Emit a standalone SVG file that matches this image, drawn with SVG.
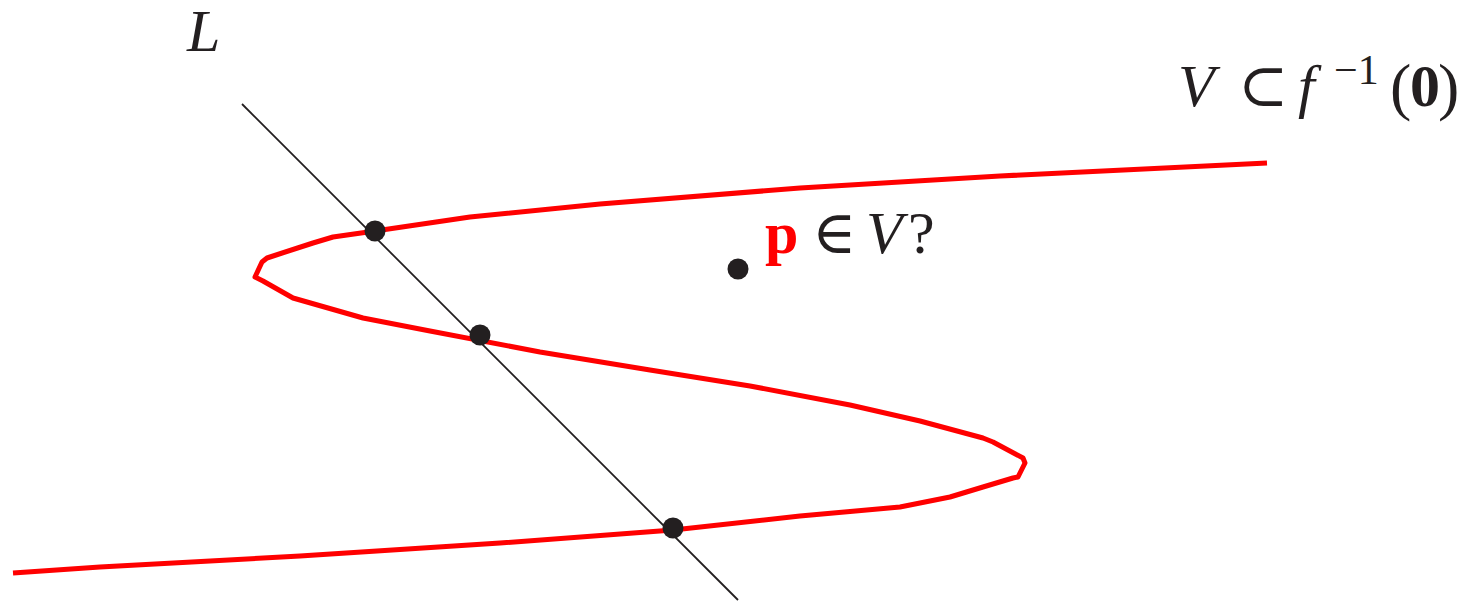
<svg xmlns="http://www.w3.org/2000/svg" width="1470" height="601" viewBox="0 0 1470 601">
<style>
.t{font-family:"Liberation Serif","DejaVu Serif",serif;font-size:60px;fill:#231f20}
.it{font-style:italic}
.bf{font-weight:bold}
.dot{fill:#231f20}
</style>
<rect width="1470" height="601" fill="#ffffff"/>
<g id="line-L">
<line x1="242" y1="104" x2="738" y2="600" stroke="#231f20" stroke-width="1.8"/>
</g>
<g id="variety-V">
<polyline fill="none" stroke="#ff0000" stroke-width="5" stroke-linejoin="round" points="1267,163 1000,176 800,188 600,204 470,217 375,231 333,237 313,243 267,258 262,262 255,277 263,281 293,298 363,318 430,331 540,352 650,370 750,386 850,405 920,421 983,438 993,442 1023,458 1025,463 1018,477 1013,478 983,487 950,497 920,503 900,507 800,516 673,530 500,543 300,556 100,567 13,573"/>
</g>
<g id="intersections">
<circle class="dot" cx="375" cy="231" r="10.5"/>
<circle class="dot" cx="480" cy="335" r="10.5"/>
<circle class="dot" cx="673" cy="528" r="10.5"/>
</g>
<g id="point-p">
<circle class="dot" cx="738" cy="269" r="10.5"/>
</g>
<g id="labels">
<text class="t it" x="187" y="51" font-size="54">L</text>
<text class="t" y="106"><tspan class="it" x="1178">V</tspan><tspan x="1238">⊂</tspan><tspan class="it" x="1298">f</tspan><tspan x="1334" y="84" font-size="42">−1</tspan><tspan x="1390" y="108" font-size="64">(</tspan><tspan class="bf" x="1410" y="106">0</tspan><tspan x="1438" y="108" font-size="64">)</tspan></text>
<text class="t" y="253"><tspan class="bf" x="765" fill="#ff0000">p</tspan><tspan x="812">∈</tspan><tspan class="it" x="866">V</tspan><tspan x="908">?</tspan></text>
</g>
</svg>
